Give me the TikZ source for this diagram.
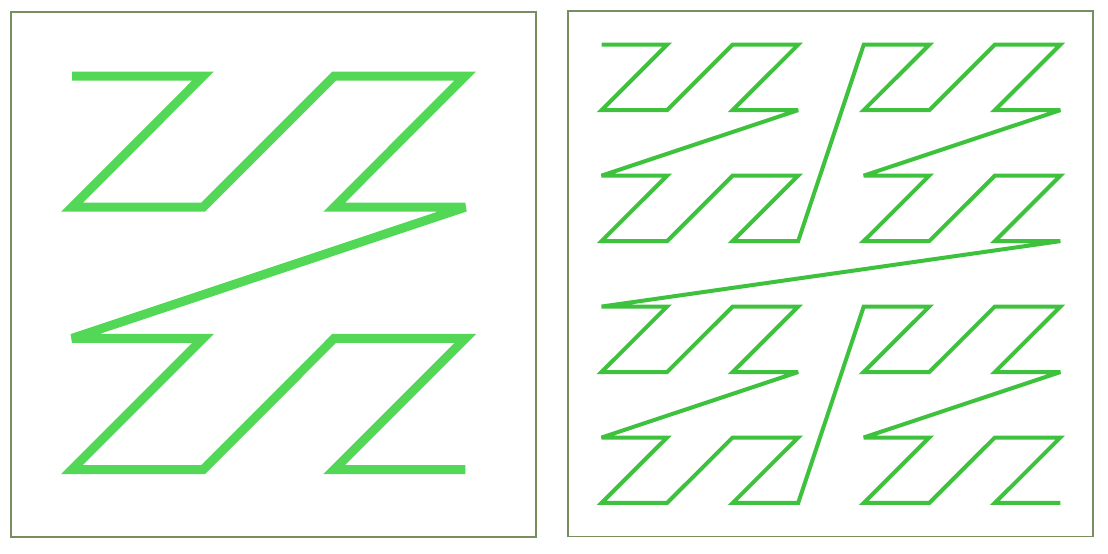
\documentclass[tikz,border=0pt]{standalone}
\definecolor{framecol}{RGB}{118,142,96}
\definecolor{zbig}{RGB}{82,216,86}
\definecolor{zsmall}{RGB}{62,194,62}
\tikzset{
  frame/.style={draw=framecol,line width=1.8pt},
  curveA/.style={draw=zbig,line width=9pt,line join=miter,miter limit=4,line cap=butt},
  curveB/.style={draw=zsmall,line width=4pt,line join=miter,miter limit=4,line cap=butt}
}
\begin{document}
\begin{tikzpicture}[x=1pt,y=-1pt]
\useasboundingbox (0,0) rectangle (1108,554);
\draw[frame] (11,12) rectangle (536,537);
\draw[frame] (568,11) rectangle (1093,536.5);
\foreach \n in {0,...,15} {
  \pgfmathtruncatemacro\ix{mod(\n,2)+2*mod(floor(\n/4),2)}
  \pgfmathtruncatemacro\iy{mod(floor(\n/2),2)+2*mod(floor(\n/8),2)}
  \coordinate (a\n) at ({72+131.1*\ix},{76+131.2*\iy});
}
\draw[curveA] (a0) \foreach \i in {1,...,15}{-- (a\i)};
\foreach \n in {0,...,63} {
  \pgfmathtruncatemacro\ix{mod(\n,2)+2*mod(floor(\n/4),2)+4*mod(floor(\n/16),2)}
  \pgfmathtruncatemacro\iy{mod(floor(\n/2),2)+2*mod(floor(\n/8),2)+4*mod(floor(\n/32),2)}
  \coordinate (b\n) at ({601.5+65.55*\ix},{44.7+65.47*\iy});
}
\draw[curveB] (b0) \foreach \i in {1,...,63}{-- (b\i)};
\end{tikzpicture}
\end{document}
